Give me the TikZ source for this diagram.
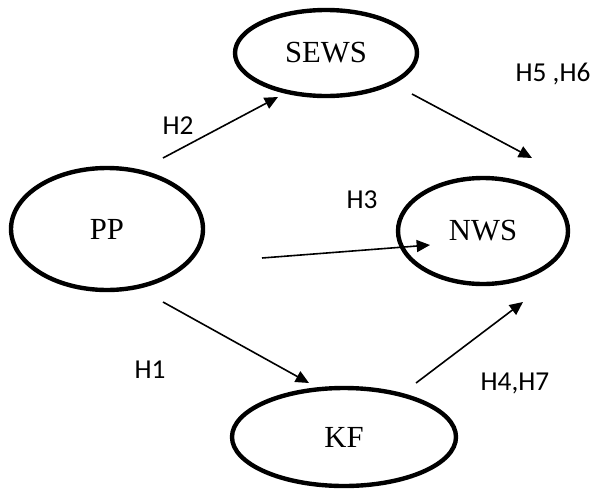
\documentclass[tikz,border=0pt]{standalone}
\usepackage{fontspec}
\setmainfont{Liberation Serif}
\newfontfamily\lblfont{Carlito}
\usetikzlibrary{shapes.geometric,arrows.meta}
\tikzset{
  oval/.style={draw, ellipse, line width=3.3pt, inner sep=0pt, font=\fontsize{23}{26}\selectfont},
  arr/.style={line width=1.2pt, -{Triangle[length=10pt,width=9pt]}},
  lbl/.style={font=\lblfont\fontsize{20.5}{24}\selectfont, inner sep=0pt}
}
\begin{document}
\begin{tikzpicture}[x=0.75pt,y=-0.75pt]
\useasboundingbox (0,0) rectangle (595,489);
\fill[white] (0,0) rectangle (595,489);
\node[oval, minimum width=136.5pt, minimum height=64.5pt] (sews) at (326,53) {SEWS};
\node[oval, minimum width=127.5pt, minimum height=79.5pt] (nws) at (483,231) {NWS};
\node[oval, minimum width=144pt, minimum height=91.5pt] (pp) at (107,229) {PP};
\node[oval, minimum width=168pt, minimum height=73.5pt] (kf) at (344,437) {KF};
\coordinate (a1s) at (163,158); \coordinate (a1e) at (278,97);
\coordinate (a2s) at (412,94);  \coordinate (a2e) at (532,158);
\coordinate (a3s) at (262,258); \coordinate (a3e) at (430,245);
\coordinate (a4s) at (163,302); \coordinate (a4e) at (309,383);
\coordinate (a5s) at (416,383); \coordinate (a5e) at (523,302);
\draw[arr] (a1s) -- (a1e);
\draw[arr] (a2s) -- (a2e);
\draw[arr] (a3s) -- (a3e);
\draw[arr] (a4s) -- (a4e);
\draw[arr] (a5s) -- (a5e);
\node[lbl] (h2) at (178,126) {H2};
\node[lbl] (h56) at (553,74) {H5 ,H6};
\node[lbl] (h3) at (362,200) {H3};
\node[lbl] (h1) at (150,370) {H1};
\node[lbl] (h47) at (515,383) {H4,H7};
\end{tikzpicture}
\end{document}
